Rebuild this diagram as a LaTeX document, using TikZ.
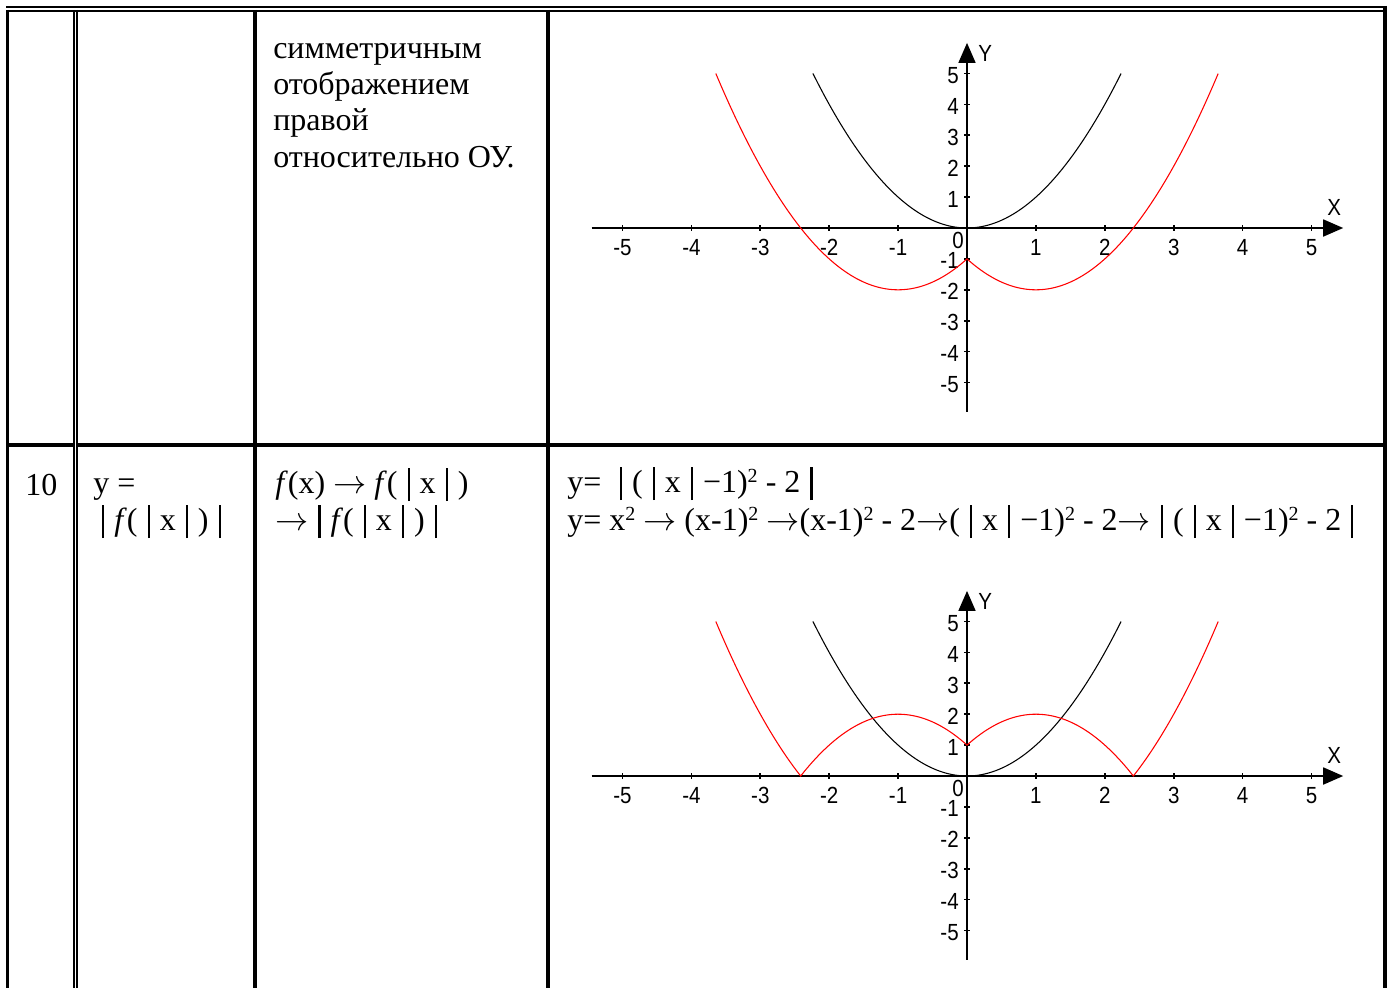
\documentclass[tikz,border=0pt]{standalone}
\usepackage{fontspec}
\setmainfont{Liberation Serif}
\setsansfont{Liberation Sans}
\usetikzlibrary{arrows.meta}
\newcommand\tickfont{\fontsize{17.5}{17.5}\selectfont\sffamily}
\newcommand\cellfont{\fontsize{24}{27.6}\selectfont}
\newcommand\vbar{\rule[-6pt]{1.6pt}{24.75pt}}
\newcommand\bsp{\hspace{7.5pt}}
\newcommand\absbar{\bsp\vbar\bsp}
\newcommand\sqr{\raisebox{7pt}{\fontsize{15}{15}\selectfont 2}}
\newcommand\arr{$\rightarrow$}
\newcommand\tk[1]{\scalebox{0.88}[1]{#1}}
\begin{document}
\begin{tikzpicture}[x=0.75pt,y=-0.75pt,
  rulethin/.style={line width=1.5pt,line cap=butt},
  rulemid/.style={line width=2.6pt,line cap=butt},
  rulethick/.style={line width=3pt,line cap=butt},
  celltext/.style={anchor=base west,inner sep=0pt,font=\cellfont},
  axisline/.style={line width=1.3pt,-{Triangle[length=15pt,width=12.75pt]}},
  tickline/.style={line width=1.3pt},
  ticklab/.style={inner sep=0pt,font=\tickfont},
  curveblack/.style={line width=0.8pt,black},
  curvered/.style={line width=0.8pt,red},
  graph/.pic={
    \draw[axisline] (-5.45,0) coordinate (-xs) -- (5.46,0) coordinate (-xt);
    \draw[axisline] (0,-5.94) coordinate (-ys) -- (0,5.99) coordinate (-yt);
    \foreach \k in {-5,-4,-3,-2,-1,1,2,3,4,5}{
      \draw[tickline] (\k,0) ++(0pt,-2pt) -- ++(0pt,4pt);
      \draw[tickline] (0,\k) ++(-2pt,0pt) -- ++(4pt,0pt);
      \node[ticklab,anchor=base] (-xl\k) at ([yshift=-20.25pt]\k,0) {\tk{\k}};
      \node[ticklab,anchor=base east] (-yl\k) at ([xshift=-6pt,yshift=-7.5pt]0,\k) {\tk{\k}};
    }
    \node[ticklab,anchor=base east] (-zero) at ([xshift=-2.25pt,yshift=-15pt]0,0) {\tk{0}};
    \node[ticklab,anchor=base west] (-ylab) at ([xshift=8.25pt,yshift=-14.25pt]-yt) {\tk{Y}};
    \node[ticklab,anchor=base west] (-xlab) at ([xshift=-12pt,yshift=9.75pt]-xt) {\tk{X}};
    \draw[curveblack] plot[domain=-2.2361:2.2361,samples=121] (\x,{\x*\x});
  }
]
\useasboundingbox (0,0) rectangle (1394,988);
% table rules
\draw[rulethin] (6,7) -- (1387,7);
\draw[rulethin] (7,11) -- (1384,11);
\draw[line width=2.25pt] (7.5,10) -- (7.5,988);
\draw[rulethick] (1385,6) -- (1385,988);
\draw[rulethin] (74,10) -- (74,988);
\draw[rulethin] (77,10) -- (77,988);
\draw[rulemid] (255,10) -- (255,988);
\draw[rulethick] (548,10) -- (548,988);
\draw[rulemid] (7,445) -- (74.5,445);
\draw[rulemid] (76.5,445) -- (1384,445);
% row 1 text
\node[celltext] (r1a) at (273,58.5) {симметричным};
\node[celltext] (r1b) at (273,95) {отображением};
\node[celltext] (r1c) at (273,131) {правой};
\node[celltext] (r1d) at (273,167) {относительно ОУ.};
% row 2 text
\node[celltext] (num) at (25,495) {10};
\node[celltext] (fa) at (93,493) {y =};
\node[celltext] (fb) at (102,530) {\vbar\bsp\textit{f}(\absbar x\absbar)\bsp\vbar};
\node[celltext] (ta) at (275,493) {\textit{f}(x) \arr{} \textit{f}(\absbar x\absbar)};
\node[celltext] (tb) at (275,530) {\arr\absbar\textit{f}(\absbar x\absbar)\bsp\vbar};
\node[celltext] (ea) at (567,492) {y=\hspace{14pt}\vbar\bsp(\absbar x\absbar−1)\sqr{} - 2\bsp\vbar};
\node[celltext] (eb) at (567,530) {y= x\sqr{} \arr{} (x-1)\sqr{} \arr(x-1)\sqr{} - 2\arr(\absbar x\absbar−1)\sqr{} - 2\arr\absbar(\absbar x\absbar−1)\sqr{} - 2\bsp\vbar};
% graph 1
\begin{scope}[shift={(725.25pt,-171pt)},x=51.675pt,y=23.175pt]
  \pic (gA) {graph};
  \draw[curvered] plot[domain=-3.6458:3.6458,samples=201] (\x,{(abs(\x)-1)*(abs(\x)-1)-2});
\end{scope}
% graph 2
\begin{scope}[shift={(725.25pt,-582pt)},x=51.675pt,y=23.175pt]
  \pic (gB) {graph};
  \draw[curvered] plot[domain=-3.6458:-2.41421,samples=40] (\x,{abs((abs(\x)-1)*(abs(\x)-1)-2)})
    -- plot[domain=-2.41421:0,samples=80] (\x,{abs((abs(\x)-1)*(abs(\x)-1)-2)})
    -- plot[domain=0:2.41421,samples=80] (\x,{abs((abs(\x)-1)*(abs(\x)-1)-2)})
    -- plot[domain=2.41421:3.6458,samples=40] (\x,{abs((abs(\x)-1)*(abs(\x)-1)-2)});
\end{scope}
\end{tikzpicture}
\end{document}
